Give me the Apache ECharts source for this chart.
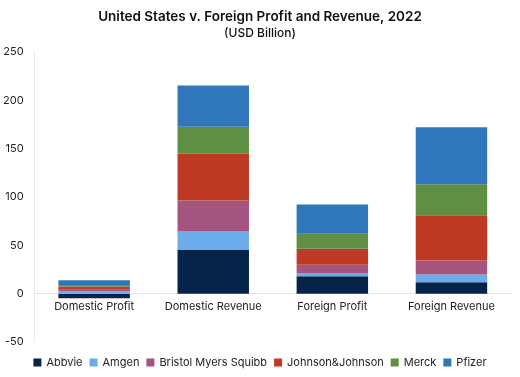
<!DOCTYPE html>
<html><head><meta charset="utf-8">
<script src="https://cdn.jsdelivr.net/npm/echarts@6/dist/echarts.min.js"></script>
<style>html,body{margin:0;padding:0;background:#fff}#c{width:520px;height:377px}</style>
</head><body><div id="c"></div>
<script>
const categories = ['Domestic Profit', 'Domestic Revenue', 'Foreign Profit', 'Foreign Revenue'];
const abbvie = [-4.8, 45.3, 18, 11.7];
const amgen = [2.5, 19, 3.5, 8];
const bms = [1.5, 32, 8.5, 14.5];
const jnj = [3.5, 48.5, 16.4, 47];
const merck = [1.5, 28, 15.6, 32];
const pfizer = [5, 42.5, 30.3, 59];
const yTicks = [-50, 0, 50, 100, 150, 200, 250];

const names = ['Abbvie', 'Amgen', 'Bristol Myers Squibb', 'Johnson&Johnson', 'Merck', 'Pfizer'];
const values = [abbvie, amgen, bms, jnj, merck, pfizer];
const colors = ['#06234a', '#6badea', '#a4557f', '#bf3a25', '#5e8f43', '#2f76bb'];
const font = 'Inter, "Noto Sans", sans-serif';

const chart = echarts.init(document.getElementById('c'));
chart.setOption({
  animation: false,
  color: colors,
  title: {
    text: 'United States v. Foreign Profit and Revenue, 2022',
    subtext: '(USD Billion)',
    left: 'center', top: 5, itemGap: 3,
    textStyle: {fontFamily: font, fontSize: 13.5, fontWeight: 600, color: '#111'},
    subtextStyle: {fontFamily: font, fontSize: 12, fontWeight: 500, color: '#111'}
  },
  legend: {
    bottom: 4, left: 'center', itemWidth: 8, itemHeight: 8, itemGap: 7,
    icon: 'rect',
    textStyle: {fontFamily: font, fontSize: 11, color: '#222'},
    data: names
  },
  grid: {left: 33, right: 9, top: 52, bottom: 35, containLabel: false},
  xAxis: {
    type: 'category', data: categories,
    offset: -49,
    axisLine: {show: true, onZero: false, lineStyle: {color: '#e3e3e3'}},
    axisTick: {show: false},
    axisLabel: {fontFamily: font, fontSize: 11, color: '#222', margin: 8, interval: 0, hideOverlap: false}
  },
  yAxis: {
    type: 'value', min: -50, max: 250, interval: 50,
    axisLine: {show: true, lineStyle: {color: '#e8e8e8'}},
    axisTick: {show: false},
    splitLine: {show: false},
    axisLabel: {fontFamily: font, fontSize: 11, color: '#222', margin: 11,
      formatter: v => yTicks.includes(v) ? String(v) : ''}
  },
  series: names.map((n, i) => ({
    name: n, type: 'bar', stack: 'total', barWidth: '60%',
    data: values[i],
    itemStyle: {color: colors[i]}
  }))
});
</script></body></html>
